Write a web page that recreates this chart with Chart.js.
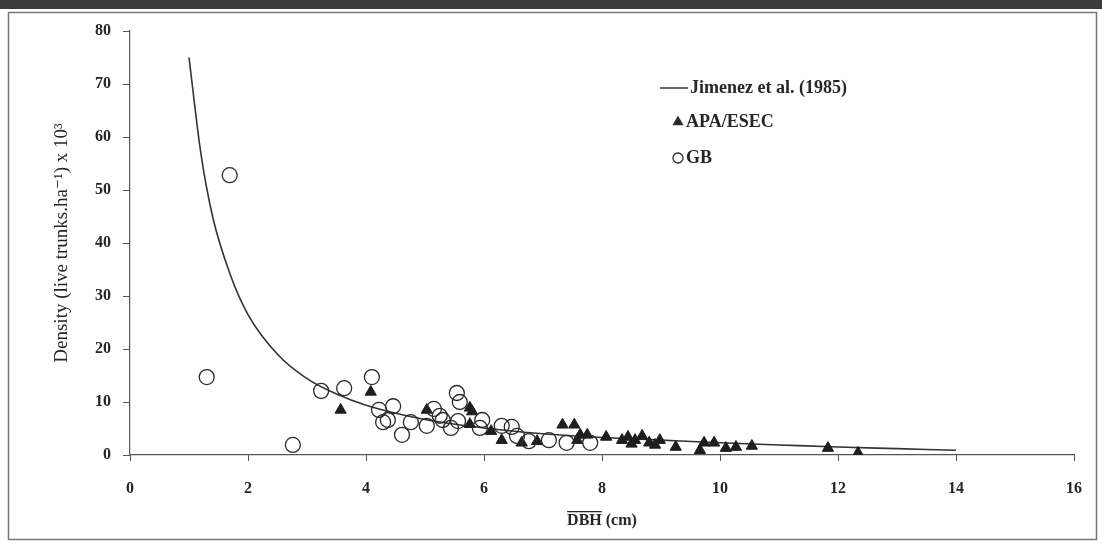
<!DOCTYPE html>
<html>
<head>
<meta charset="utf-8">
<script src="https://cdn.jsdelivr.net/npm/chart.js@4.4.1/dist/chart.umd.min.js"></script>
<style>
  html, body { margin: 0; padding: 0; background: #fff; }
  #chart { display: block; }
</style>
</head>
<body>
<canvas id="chart" width="1102" height="548"></canvas>
<script>
// --- data ---
const curveX = [1, 1.2, 1.4, 1.7, 2, 2.5, 3, 3.5, 4, 5, 6, 7, 8, 9, 10, 11, 12, 13, 14];
const curveY = [75, 57, 45, 34, 26.5, 19, 14.4, 11.5, 9.4, 6.7, 5.1, 4.0, 3.3, 2.8, 2.3, 1.9, 1.5, 1.2, 0.9];

const apaX = [3.57, 4.08, 5.03, 5.76, 5.8, 5.76, 6.12, 6.3, 6.64, 6.9, 7.33, 7.53, 7.58, 7.63, 7.75, 8.07, 8.34, 8.44, 8.5, 8.56, 8.68, 8.8, 8.9, 8.98, 9.25, 9.66, 9.73, 9.9, 10.1, 10.27, 10.54, 11.83, 12.34];
const apaY = [8.5, 11.9, 8.5, 8.9, 8.2, 5.8, 4.5, 2.8, 2.3, 2.6, 5.7, 5.7, 2.8, 3.8, 3.8, 3.4, 2.8, 3.4, 2.1, 2.8, 3.6, 2.3, 1.9, 2.8, 1.5, 0.9, 2.3, 2.3, 1.3, 1.5, 1.7, 1.3, 0.4];

const gbX = [1.3, 1.69, 2.76, 3.24, 3.63, 4.1, 4.22, 4.46, 4.29, 4.37, 4.61, 4.76, 5.03, 5.15, 5.25, 5.3, 5.44, 5.54, 5.59, 5.56, 5.97, 5.93, 6.3, 6.47, 6.56, 6.76, 7.1, 7.4, 7.8];
const gbY = [14.7, 52.8, 1.9, 12.1, 12.6, 14.7, 8.5, 9.2, 6.2, 6.6, 3.8, 6.2, 5.5, 8.7, 7.4, 6.6, 5.1, 11.7, 10.0, 6.4, 6.6, 5.1, 5.5, 5.3, 3.6, 2.6, 2.8, 2.3, 2.3];

const xTicks = [0, 2, 4, 6, 8, 10, 12, 14, 16];
const yTicks = [0, 10, 20, 30, 40, 50, 60, 70, 80];

const seriesNames = ['Jimenez et al. (1985)', 'APA/ESEC', 'GB'];

const pts = (xs, ys) => xs.map((x, i) => ({ x, y: ys[i] }));

const SERIF = '"Liberation Serif", "DejaVu Serif", serif';
const INK = '#262626';

// scan frame + dark strip at the top
const framePlugin = {
    id: 'frame',
    beforeDraw(chart) {
        const c = chart.ctx;
        c.save();
        c.fillStyle = '#fff';
        c.fillRect(0, 0, chart.width, chart.height);
        c.fillStyle = '#3c3c3c';
        c.fillRect(0, 0, chart.width, 9);
        c.strokeStyle = '#777';
        c.lineWidth = 1.5;
        c.strokeRect(8.5, 12.5, 1088, 527);
        c.restore();
    }
};

// legend drawn inside the plot, top right
const legendPlugin = {
    id: 'innerLegend',
    afterDraw(chart) {
        const c = chart.ctx;
        const ds = chart.data.datasets;
        const x0 = 660, y0 = 88, gap = 34;
        c.save();
        c.font = 'bold 18px ' + SERIF;
        c.textBaseline = 'middle';
        c.fillStyle = INK;
        // line entry
        c.strokeStyle = ds[0].borderColor;
        c.lineWidth = 1.5;
        c.beginPath(); c.moveTo(x0, y0); c.lineTo(x0 + 28, y0); c.stroke();
        c.fillText(ds[0].label, x0 + 30, y0);
        // triangle entry
        Chart.helpers.drawPoint(c, { pointStyle: 'triangle', radius: 5, borderWidth: 1 }, x0 + 18, y0 + gap);
        c.fillStyle = INK;
        c.fillText(ds[1].label, x0 + 26, y0 + gap);
        // circle entry
        c.strokeStyle = ds[2].borderColor;
        c.lineWidth = 1.3;
        c.beginPath(); c.arc(x0 + 18, y0 + gap * 2 + 2, 5, 0, Math.PI * 2); c.stroke();
        c.fillText(ds[2].label, x0 + 26, y0 + gap * 2 + 2);
        c.restore();
    }
};

// bar over "DBH" in the x title
const overlinePlugin = {
    id: 'overline',
    afterDraw(chart) {
        const c = chart.ctx;
        const xs = chart.scales.x;
        const t = xs.options.title;
        c.save();
        c.font = `${t.font.weight} ${t.font.size}px ${t.font.family}`;
        const full = c.measureText(t.text).width;
        const dbh = c.measureText('DBH').width;
        const cx = (chart.chartArea.left + chart.chartArea.right) / 2;
        const ty = xs.bottom - t.padding.bottom - t.font.size * 0.6;
        c.strokeStyle = INK;
        c.lineWidth = 1.3;
        c.beginPath();
        c.moveTo(cx - full / 2, ty - t.font.size * 0.55);
        c.lineTo(cx - full / 2 + dbh, ty - t.font.size * 0.55);
        c.stroke();
        c.restore();
    }
};

new Chart(document.getElementById('chart'), {
    type: 'scatter',
    data: {
        datasets: [
            { // fitted curve
                label: seriesNames[0]
                ,type: 'line'
                ,data: pts(curveX, curveY)
                ,borderColor: '#333'
                ,borderWidth: 1.6
                ,pointRadius: 0
                ,cubicInterpolationMode: 'monotone'
                ,fill: false
                ,order: 2
            },
            { // filled triangles
                label: seriesNames[1]
                ,data: pts(apaX, apaY)
                ,pointStyle: 'triangle'
                ,pointRadius: 6.5
                ,backgroundColor: '#1e1e1e'
                ,borderColor: '#1e1e1e'
                ,borderWidth: 1
                ,order: 1
            },
            { // hollow circles
                label: seriesNames[2]
                ,data: pts(gbX, gbY)
                ,pointStyle: 'circle'
                ,pointRadius: 7.5
                ,backgroundColor: 'rgba(0,0,0,0)'
                ,borderColor: '#2a2a2a'
                ,borderWidth: 1.3
                ,order: 0
            }
        ]
    },
    options: {
        responsive: false,
        maintainAspectRatio: false,
        animation: false,
        layout: { padding: { top: 31, right: 28, bottom: 0, left: 0 } },
        plugins: { legend: { display: false }, tooltip: { enabled: false } },
        scales: {
            x: {
                type: 'linear', min: 0, max: 16,
                afterBuildTicks: s => { s.ticks = xTicks.map(v => ({ value: v })); },
                afterFit: s => { s.height = 93; },
                grid: { drawOnChartArea: false, drawTicks: true, tickLength: 6, color: '#555' },
                border: { display: true, color: '#555', width: 1.2 },
                ticks: { color: INK, padding: 18, font: { family: SERIF, size: 16, weight: 'bold' } },
                title: { display: true, text: 'DBH (cm)', color: INK, padding: { top: 0, bottom: 18 },
                    font: { family: SERIF, size: 16, weight: 'bold' } }
            },
            y: {
                type: 'linear', min: 0, max: 80,
                afterBuildTicks: s => { s.ticks = yTicks.map(v => ({ value: v })); },
                afterFit: s => { s.width = 130; },
                grid: { drawOnChartArea: false, drawTicks: true, tickLength: 7, color: '#555' },
                border: { display: true, color: '#555', width: 1.2 },
                ticks: { color: INK, padding: 12, font: { family: SERIF, size: 16, weight: 'bold' } },
                title: { display: true, text: 'Density (live trunks.ha⁻¹) x 10³', color: INK, padding: { top: 51, bottom: 0 },
                    font: { family: SERIF, size: 19, weight: 'normal' } }
            }
        }
    },
    plugins: [framePlugin, legendPlugin, overlinePlugin]
});
</script>
</body>
</html>
